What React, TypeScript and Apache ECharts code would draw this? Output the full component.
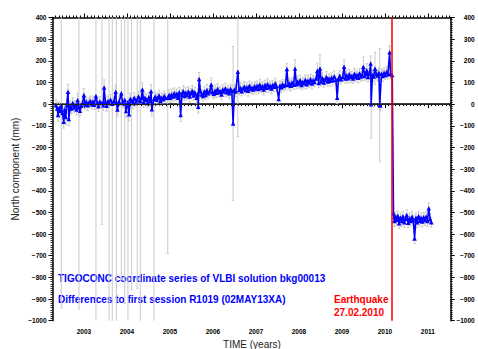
import React, { useEffect, useRef } from "react";
import * as echarts from "echarts";

// [decimal year, north (mm), formal error (mm)]
const sessions2002_2003: number[][] = [
  [2002.35, -5, 25], [2002.38, -20, 28], [2002.40, -50, 30], [2002.43, -15, 25], [2002.45, -30, 28],
  [2002.475, -10, 930], [2002.50, -40, 30], [2002.53, -81, 30], [2002.55, -25, 25], [2002.58, -60, 35],
  [2002.60, -5, 25], [2002.63, 57, 35], [2002.65, -69, 30], [2002.68, -10, 25], [2002.71, -20, 25],
  [2002.74, 5, 25], [2002.77, -15, 25], [2002.80, -5, 22], [2002.83, -25, 25], [2002.855, 19, 30],
  [2002.885, -15, 930], [2002.91, -30, 25], [2002.94, -8, 22], [2002.97, 5, 22],
  [2003.00, 42, 30], [2003.03, -2, 22], [2003.06, 10, 22], [2003.09, -5, 25], [2003.12, 8, 22],
  [2003.15, 15, 22], [2003.18, 0, 22], [2003.21, 12, 25], [2003.24, -3, 22], [2003.28, 37, 1100],
  [2003.31, 5, 22], [2003.34, -10, 25], [2003.37, 12, 22], [2003.42, 5, 560], [2003.45, -5, 25],
  [2003.47, 77, 35], [2003.50, 10, 22], [2003.53, -8, 25], [2003.56, 15, 22], [2003.585, 5, 1100],
  [2003.62, 20, 25], [2003.66, 2, 1100], [2003.70, 15, 22], [2003.74, 57, 30], [2003.755, 10, 1100],
  [2003.78, -25, 30], [2003.82, 12, 22], [2003.87, 50, 860], [2003.90, 5, 22], [2003.95, 20, 940],
  [2003.98, -32, 30],
];

const sessions2004_2005: number[][] = [
  [2004.025, 10, 1100], [2004.05, -47, 30], [2004.08, 25, 25], [2004.11, 15, 870], [2004.14, 5, 25],
  [2004.17, 30, 22], [2004.21, 12, 25], [2004.24, 20, 870], [2004.27, 35, 22], [2004.31, 15, 1100],
  [2004.34, 28, 22], [2004.36, 68, 30], [2004.39, 10, 25], [2004.42, 30, 22], [2004.45, 20, 25],
  [2004.48, 5, 22], [2004.51, 32, 22], [2004.54, 15, 25], [2004.56, 60, 30], [2004.58, -24, 30],
  [2004.63, 25, 1100], [2004.66, 35, 22], [2004.69, 20, 25], [2004.72, 28, 22], [2004.75, 40, 25],
  [2004.78, 15, 22], [2004.81, 30, 22], [2004.84, 22, 25], [2004.87, 38, 22], [2004.90, 28, 22],
  [2004.95, 30, 720], [2004.98, 42, 25],
  [2005.01, 30, 22], [2005.04, 45, 25], [2005.07, 35, 22], [2005.10, 50, 25], [2005.13, 38, 22],
  [2005.16, 48, 22], [2005.19, 30, 25], [2005.22, 55, 22], [2005.25, -50, 30], [2005.28, 45, 22],
  [2005.31, 60, 25], [2005.34, 38, 22], [2005.37, 52, 25], [2005.40, 42, 22], [2005.43, 58, 22],
  [2005.46, 35, 25], [2005.49, 50, 22], [2005.52, 62, 25], [2005.55, 40, 22], [2005.58, 55, 22],
  [2005.62, 30, 25], [2005.65, 48, 22], [2005.66, -12, 30], [2005.68, 116, 30], [2005.71, 60, 25],
  [2005.74, 45, 22], [2005.77, 38, 25], [2005.80, 58, 22], [2005.83, 42, 22], [2005.86, 65, 25],
  [2005.89, 50, 22], [2005.93, 60, 22], [2005.96, 91, 30], [2005.99, 55, 22],
];

const sessions2006_2007: number[][] = [
  [2006.02, 48, 22], [2006.05, 62, 25], [2006.08, 52, 22], [2006.11, 70, 25], [2006.14, 55, 22],
  [2006.17, 60, 22], [2006.20, 45, 25], [2006.23, 68, 22], [2006.26, 58, 22], [2006.29, 72, 25],
  [2006.32, 55, 22], [2006.35, 65, 22], [2006.38, 50, 25], [2006.41, 70, 22], [2006.44, 62, 22],
  [2006.47, -89, 355], [2006.50, 68, 22], [2006.53, 58, 25], [2006.58, 150, 300], [2006.61, 65, 22],
  [2006.64, 75, 25], [2006.67, 60, 22], [2006.70, 72, 22], [2006.73, 80, 25], [2006.76, 65, 22],
  [2006.79, 78, 22], [2006.82, 62, 25], [2006.85, 85, 22], [2006.88, 70, 22], [2006.91, 76, 25],
  [2006.94, 68, 22], [2006.97, 82, 22],
  [2007.00, 72, 25], [2007.03, 85, 22], [2007.06, 70, 22], [2007.09, 90, 25], [2007.12, 75, 22],
  [2007.15, 82, 22], [2007.18, 68, 25], [2007.21, 88, 22], [2007.24, 76, 22], [2007.27, 92, 25],
  [2007.30, 78, 22], [2007.33, 85, 22], [2007.36, 72, 25], [2007.39, 88, 22], [2007.42, 80, 22],
  [2007.45, 95, 25], [2007.48, 82, 22], [2007.53, 24, 25], [2007.56, 86, 22], [2007.59, 78, 25],
  [2007.62, 92, 22], [2007.65, 84, 22], [2007.69, 90, 25], [2007.72, 162, 25], [2007.75, 88, 22],
  [2007.78, 95, 22], [2007.81, 85, 25], [2007.84, 100, 22], [2007.88, 90, 22], [2007.91, 165, 40],
  [2007.94, 92, 22], [2007.97, 105, 25],
];

const sessions2008_2010: number[][] = [
  [2008.00, 95, 22], [2008.03, 110, 25], [2008.06, 88, 22], [2008.09, 102, 22], [2008.12, 96, 25],
  [2008.15, 112, 22], [2008.18, 92, 22], [2008.21, 108, 25], [2008.24, 100, 22], [2008.27, 115, 22],
  [2008.30, 95, 25], [2008.33, 110, 22], [2008.36, 102, 22], [2008.40, 118, 25], [2008.43, 154, 35],
  [2008.46, 98, 22], [2008.49, 165, 65], [2008.52, 105, 22], [2008.55, 120, 25], [2008.58, 100, 22],
  [2008.61, 112, 22], [2008.64, 125, 25], [2008.67, 105, 22], [2008.70, 118, 22], [2008.73, 108, 25],
  [2008.76, 122, 22], [2008.79, 110, 22], [2008.82, 128, 25], [2008.86, 112, 22], [2008.89, 30, 28],
  [2008.92, 118, 22], [2008.95, 130, 25], [2008.98, 115, 22],
  [2009.02, 125, 22], [2009.05, 173, 30], [2009.08, 118, 22], [2009.11, 132, 25], [2009.14, 120, 22],
  [2009.17, 138, 22], [2009.20, 125, 25], [2009.23, 130, 22], [2009.26, 118, 22], [2009.29, 140, 25],
  [2009.32, 125, 22], [2009.35, 135, 22], [2009.38, 122, 25], [2009.41, 142, 22], [2009.44, 128, 22],
  [2009.47, 135, 25], [2009.50, 173, 45], [2009.53, 130, 22], [2009.56, 140, 25], [2009.58, 157, 30],
  [2009.61, 125, 22], [2009.64, 142, 22], [2009.67, 188, 35], [2009.68, 0, 157], [2009.71, 135, 22],
  [2009.74, 128, 25], [2009.77, 165, 75], [2009.80, 138, 22], [2009.83, 132, 25], [2009.86, 145, 22],
  [2009.88, -4, 260], [2009.89, -6, 25], [2009.92, 140, 22], [2009.95, 130, 25], [2009.98, 145, 22],
  [2010.01, 135, 22], [2010.04, 148, 25], [2010.07, 138, 22], [2010.11, 239, 30], [2010.13, 140, 22],
  [2010.17, 135, 25],
];

const sessionsAfterQuake: number[][] = [
  [2010.20, -505, 25], [2010.22, -540, 25], [2010.24, -520, 22], [2010.27, -535, 25], [2010.30, -515, 22],
  [2010.33, -550, 25], [2010.36, -525, 22], [2010.39, -540, 25], [2010.42, -518, 22], [2010.45, -545, 25],
  [2010.48, -530, 22], [2010.51, -512, 25], [2010.54, -548, 22], [2010.57, -528, 25], [2010.60, -540, 22],
  [2010.63, -520, 25], [2010.66, -535, 22], [2010.69, -620, 25], [2010.72, -525, 22], [2010.75, -545, 25],
  [2010.78, -518, 22], [2010.81, -538, 25], [2010.84, -525, 22], [2010.87, -542, 25], [2010.90, -522, 22],
  [2010.93, -535, 25], [2010.96, -520, 22], [2010.99, -540, 25], [2011.02, -481, 25], [2011.05, -530, 22],
  [2011.08, -545, 22],
];

const yearTicks: number[] = [2003, 2004, 2005, 2006, 2007, 2008, 2009, 2010, 2011];
const earthquakeYear = 2010.16;
const xMin = 2002.27;
const xMax = 2011.53;

const FONT = "'Liberation Sans', Arial, Helvetica, sans-serif";

export default function App() {
  const ref = useRef<HTMLDivElement>(null);

  useEffect(() => {
    if (!ref.current) return;
    const chart = echarts.init(ref.current, undefined, { renderer: "svg" });

    const all = [
      ...sessions2002_2003,
      ...sessions2004_2005,
      ...sessions2006_2007,
      ...sessions2008_2010,
      ...sessionsAfterQuake,
    ];

    const monthTicks: number[] = [];
    for (let m = Math.ceil(xMin * 12); m <= Math.floor(xMax * 12); m++) monthTicks.push(m / 12);

    const yFmt = (v: number) => (v < 0 ? "\u2212" + Math.abs(v) : String(v));

    const baseX = {
      type: "value" as const,
      min: xMin,
      max: xMax,
      splitLine: { show: false },
    };

    const txt = (text: string, x: number, y: number, fill: string) => ({
      type: "text",
      x,
      y,
      style: {
        text,
        fontSize: 10,
        fontWeight: "bold",
        fontFamily: FONT,
        fill,
        textAlign: "left",
        textVerticalAlign: "middle",
      },
    });

    const option: any = {
      animation: false,
      grid: {
        left: 52.5,
        top: 17.5,
        right: 27.3,
        bottom: 28.3,
        outerBoundsMode: "none",
      },
      xAxis: [
        {
          ...baseX,
          position: "bottom",
          axisLine: { show: true, lineStyle: { color: "#000", width: 1.5 } },
          axisTick: { show: true, customValues: yearTicks, length: 4, lineStyle: { color: "#000", width: 1 } },
          axisLabel: {
            show: true,
            customValues: yearTicks,
            margin: 7,
            fontSize: 6.5,
            fontWeight: "bold",
            fontFamily: FONT,
            color: "#000",
            formatter: (v: number) => String(Math.round(v)),
          },
        },
        {
          ...baseX,
          position: "bottom",
          axisLine: { show: false },
          axisTick: { show: true, customValues: monthTicks, length: 2, lineStyle: { color: "#000", width: 1 } },
          axisLabel: { show: false },
        },
        {
          ...baseX,
          position: "top",
          axisLine: { show: true, lineStyle: { color: "#000", width: 1.5 } },
          axisTick: { show: true, customValues: yearTicks, length: 4, lineStyle: { color: "#000", width: 1 } },
          axisLabel: { show: false },
        },
        {
          ...baseX,
          position: "top",
          axisLine: { show: false },
          axisTick: { show: true, customValues: monthTicks, length: 2, lineStyle: { color: "#000", width: 1 } },
          axisLabel: { show: false },
        },
      ],
      yAxis: [
        {
          type: "value",
          position: "left",
          min: -1000,
          max: 400,
          interval: 100,
          splitLine: { show: false },
          axisLine: { show: true, lineStyle: { color: "#000", width: 1.5 } },
          axisTick: { show: true, length: 4, lineStyle: { color: "#000", width: 1 } },
          minorTick: { show: true, splitNumber: 10, length: 2, lineStyle: { color: "#000", width: 0.8 } },
          minorSplitLine: { show: false },
          axisLabel: {
            margin: 6,
            fontSize: 6.5,
            fontWeight: "bold",
            fontFamily: FONT,
            color: "#000",
            formatter: yFmt,
          },
        },
        {
          type: "value",
          position: "right",
          min: -1000,
          max: 400,
          interval: 100,
          splitLine: { show: false },
          axisLine: { show: true, lineStyle: { color: "#000", width: 1.5 } },
          axisTick: { show: true, length: 4, lineStyle: { color: "#000", width: 1 } },
          minorTick: { show: true, splitNumber: 10, length: 2, lineStyle: { color: "#000", width: 0.8 } },
          minorSplitLine: { show: false },
          axisLabel: {
            margin: 24,
            align: "right",
            fontSize: 6.5,
            fontWeight: "bold",
            fontFamily: FONT,
            color: "#000",
            formatter: yFmt,
          },
        },
      ],
      series: [
        {
          type: "custom",
          name: "errors",
          xAxisIndex: 0,
          yAxisIndex: 0,
          clip: true,
          silent: true,
          z: 1,
          data: all,
          encode: { x: 0, y: 1 },
          renderItem: (_params: any, api: any) => {
            const t = api.value(0);
            const n = api.value(1);
            const s = api.value(2);
            const top = api.coord([t, n + s]);
            const bot = api.coord([t, n - s]);
            const st = { stroke: "#c9c9c9", lineWidth: 1 };
            return {
              type: "group",
              children: [
                { type: "line", shape: { x1: top[0], y1: top[1], x2: bot[0], y2: bot[1] }, style: st },
                { type: "line", shape: { x1: top[0] - 1.2, y1: top[1], x2: top[0] + 1.2, y2: top[1] }, style: st },
                { type: "line", shape: { x1: bot[0] - 1.2, y1: bot[1], x2: bot[0] + 1.2, y2: bot[1] }, style: st },
              ],
            };
          },
        },
        {
          type: "line",
          name: "north",
          xAxisIndex: 0,
          yAxisIndex: 0,
          data: all.map((d) => [d[0], d[1]]),
          showSymbol: true,
          showAllSymbol: true,
          symbol: "triangle",
          symbolSize: 4.5,
          itemStyle: { color: "#0000ff" },
          lineStyle: { color: "#0000ff", width: 1.6 },
          silent: true,
          z: 2,
          markLine: {
            silent: true,
            symbol: ["none", "none"],
            label: { show: false },
            animation: false,
            data: [
              { yAxis: 0, lineStyle: { color: "#222", width: 1.2, type: "solid" } },
              { xAxis: earthquakeYear, lineStyle: { color: "#ff0000", width: 1.5, type: "solid" } },
            ],
          },
        },
      ],
      graphic: [
        {
          type: "text",
          x: 15,
          y: 169,
          rotation: Math.PI / 2,
          style: {
            text: "North component (mm)",
            fontSize: 10,
            fontFamily: FONT,
            fill: "#222",
            textAlign: "center",
            textVerticalAlign: "middle",
          },
        },
        {
          type: "text",
          x: 252,
          y: 344,
          style: {
            text: "TIME (years)",
            fontSize: 10,
            fontFamily: FONT,
            fill: "#222",
            textAlign: "center",
            textVerticalAlign: "middle",
          },
        },
        txt("TIGOCONC coordinate series of VLBI solution bkg00013", 58, 278, "#0000ff"),
        txt("Differences to first session R1019 (02MAY13XA)", 58, 299.5, "#0000ff"),
        txt("Earthquake", 334, 299.5, "#ff0000"),
        txt("27.02.2010", 334, 312, "#ff0000"),
      ],
    };

    chart.setOption(option);
    return () => chart.dispose();
  }, []);

  return (
    <div
      ref={ref}
      style={{ position: "fixed", left: 0, top: 0, width: 478, height: 349, background: "#fff" }}
    />
  );
}
